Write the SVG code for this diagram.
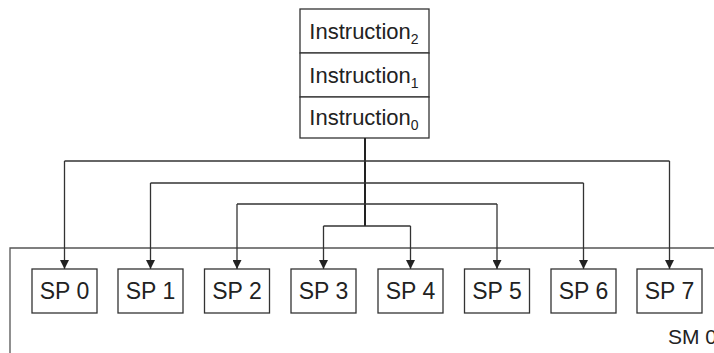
<svg xmlns="http://www.w3.org/2000/svg" width="714" height="353" viewBox="0 0 714 353">
<defs>
<style>
.box{fill:#fff;stroke:#333;stroke-width:1.3}
.lbl{font-family:"Liberation Sans",Arial,sans-serif;font-size:22px;fill:#222;text-anchor:middle}
.sp{font-family:"Liberation Sans",Arial,sans-serif;font-size:23px;fill:#222;text-anchor:middle}
.sub{font-size:14px}
.wire{fill:none;stroke:#333;stroke-width:1.3}
</style>
<marker id="arr" viewBox="0 0 10 10" refX="10" refY="5" markerWidth="9" markerHeight="9" markerUnits="userSpaceOnUse" orient="auto">
<path d="M0,0 L10,5 L0,10 z" fill="#222"/>
</marker>
</defs>
<rect width="714" height="353" fill="#fff"/>
<g id="sm0">
<path d="M10,353 V248 H714" fill="none" stroke="#555" stroke-width="1.3"/>
<text class="sp" x="668" y="344" style="text-anchor:start;font-size:21px">SM 0</text>
</g>
<g id="instructions">
<rect class="box" x="300" y="9" width="129" height="44"/>
<rect class="box" x="300" y="53" width="129" height="44"/>
<rect class="box" x="300" y="97" width="129" height="41"/>
<text class="lbl" x="364" y="39">Instruction<tspan class="sub" dy="5">2</tspan></text>
<text class="lbl" x="364" y="83">Instruction<tspan class="sub" dy="5">1</tspan></text>
<text class="lbl" x="364" y="125">Instruction<tspan class="sub" dy="5">0</tspan></text>
</g>
<g id="connectors">
<line x1="365" y1="138" x2="365" y2="226" stroke="#222" stroke-width="2"/>
<path class="wire" d="M64.5,161 H669.5"/>
<path class="wire" d="M64.5,161 V269" marker-end="url(#arr)"/>
<path class="wire" d="M669.5,161 V269" marker-end="url(#arr)"/>
<path class="wire" d="M150.5,183 H583.5"/>
<path class="wire" d="M150.5,183 V269" marker-end="url(#arr)"/>
<path class="wire" d="M583.5,183 V269" marker-end="url(#arr)"/>
<path class="wire" d="M237,204 H497"/>
<path class="wire" d="M237,204 V269" marker-end="url(#arr)"/>
<path class="wire" d="M497,204 V269" marker-end="url(#arr)"/>
<path class="wire" d="M323.5,226 H410.5"/>
<path class="wire" d="M323.5,226 V269" marker-end="url(#arr)"/>
<path class="wire" d="M410.5,226 V269" marker-end="url(#arr)"/>
</g>
<g id="sp0"><rect class="box" x="32" y="269" width="65" height="44"/><text class="sp" x="64.5" y="299">SP 0</text></g>
<g id="sp1"><rect class="box" x="118" y="269" width="65" height="44"/><text class="sp" x="150.5" y="299">SP 1</text></g>
<g id="sp2"><rect class="box" x="204.5" y="269" width="65" height="44"/><text class="sp" x="237" y="299">SP 2</text></g>
<g id="sp3"><rect class="box" x="291" y="269" width="65" height="44"/><text class="sp" x="323.5" y="299">SP 3</text></g>
<g id="sp4"><rect class="box" x="378" y="269" width="65" height="44"/><text class="sp" x="410.5" y="299">SP 4</text></g>
<g id="sp5"><rect class="box" x="464.5" y="269" width="65" height="44"/><text class="sp" x="497" y="299">SP 5</text></g>
<g id="sp6"><rect class="box" x="551" y="269" width="65" height="44"/><text class="sp" x="583.5" y="299">SP 6</text></g>
<g id="sp7"><rect class="box" x="637" y="269" width="65" height="44"/><text class="sp" x="669.5" y="299">SP 7</text></g>
</svg>
